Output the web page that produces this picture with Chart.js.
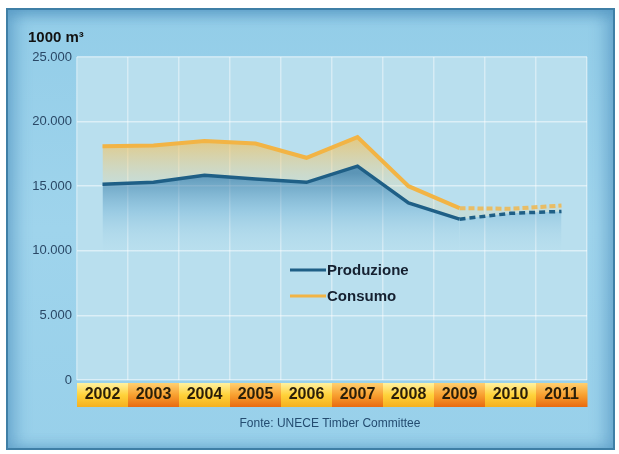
<!DOCTYPE html>
<html>
<head>
<meta charset="utf-8">
<script src="https://cdn.jsdelivr.net/npm/chart.js@4/dist/chart.umd.min.js"></script>
<style>
  html, body { margin: 0; padding: 0; background: #ffffff; }
  #wrap { position: relative; width: 619px; height: 454px; overflow: hidden; }
  #frame {
    position: absolute; left: 6px; top: 8px; width: 605px; height: 438px;
    border: 2px solid #3f7fa6;
    background: linear-gradient(180deg, #93cde8 0%, #9fd4ec 50%, #98d0ea 100%);
    box-shadow: inset 10px 0 14px rgba(60,130,180,0.35), inset -10px 0 14px rgba(60,130,180,0.35), inset 0 8px 10px rgba(60,130,180,0.25);
  }
  canvas { position: absolute; left: 0; top: 0; }
</style>
</head>
<body>
<div id="wrap">
  <div id="frame"></div>
  <canvas id="c" width="619" height="454"></canvas>
</div>
<script>
const years = ['2002','2003','2004','2005','2006','2007','2008','2009','2010','2011'];
const produzione = [15150, 15300, 15850, 15550, 15300, 16550, 13700, 12450, 12900, 13050];
const consumo = [18100, 18150, 18500, 18300, 17200, 18800, 15000, 13300, 13250, 13500];
const yTicks = [0, 5000, 10000, 15000, 20000, 25000];
const unitLabel = '1000 m³';
const sourceLabel = 'Fonte: UNECE Timber Committee';
const forecastFrom = 7; // segments after 2009 are dashed

const NARROW = "'Liberation Sans Narrow', 'Liberation Sans', Arial, sans-serif";

function fmt(v) {
  return v === 0 ? '0' : v.toLocaleString('de-DE').replace(',', '.');
}

const decor = {
  id: 'decor',
  beforeDraw(chart) {
    const { ctx, chartArea: a, scales } = chart;
    ctx.save();
    ctx.fillStyle = '#b9dfee';
    ctx.fillRect(a.left, a.top, a.right - a.left, a.bottom - a.top);
    const x = scales.x;
    const bandTop = a.bottom + 3, bandH = 24;
    years.forEach((yr, i) => {
      const c = x.getPixelForValue(i);
      const w = x.getPixelForValue(1) - x.getPixelForValue(0);
      const l = c - w / 2;
      const g = ctx.createLinearGradient(0, bandTop, 0, bandTop + bandH);
      if (i % 2 === 0) {
        g.addColorStop(0, '#fff1a0');
        g.addColorStop(0.5, '#ffd23a');
        g.addColorStop(1, '#f5b020');
      } else {
        g.addColorStop(0, '#ffd070');
        g.addColorStop(0.5, '#f8a030');
        g.addColorStop(1, '#e86a10');
      }
      ctx.fillStyle = g;
      ctx.fillRect(l, bandTop, w + 0.5, bandH);
    });
    ctx.restore();
  },
  afterDraw(chart) {
    const { ctx } = chart;
    ctx.save();
    ctx.fillStyle = '#111';
    ctx.font = "bold 15px " + NARROW;
    ctx.textBaseline = 'middle';
    ctx.textAlign = 'left';
    ctx.fillText(unitLabel, 28, 38);
    ctx.font = "12px " + NARROW;
    ctx.fillStyle = '#244c70';
    ctx.textAlign = 'center';
    ctx.fillText(sourceLabel, 330, 424);
    const items = [
      { label: 'Produzione', color: '#1f5f86', y: 270 },
      { label: 'Consumo', color: '#f2b445', y: 296 }
    ];
    items.forEach(it => {
      ctx.strokeStyle = it.color;
      ctx.lineWidth = 3;
      ctx.beginPath();
      ctx.moveTo(290, it.y);
      ctx.lineTo(326, it.y);
      ctx.stroke();
      ctx.fillStyle = '#152030';
      ctx.font = "bold 15px " + NARROW;
      ctx.textAlign = 'left';
      ctx.fillText(it.label, 327, it.y + 1);
    });
    ctx.restore();
  }
};

function blueFill(ctx) {
  const ch = ctx.chart;
  const a = ch.chartArea;
  if (!a) return 'rgba(40,110,150,0.4)';
  const y = ch.scales.y;
  const g = ch.ctx.createLinearGradient(0, y.getPixelForValue(16000), 0, y.getPixelForValue(9500));
  g.addColorStop(0, 'rgba(30,100,145,0.6)');
  g.addColorStop(0.45, 'rgba(80,155,200,0.3)');
  g.addColorStop(1, 'rgba(185,223,238,0)');
  return g;
}
function orangeFill(ctx) {
  const ch = ctx.chart;
  const a = ch.chartArea;
  if (!a) return 'rgba(240,180,70,0.4)';
  const y = ch.scales.y;
  const g = ch.ctx.createLinearGradient(0, y.getPixelForValue(18800), 0, y.getPixelForValue(15000));
  g.addColorStop(0, 'rgba(245,190,80,0.7)');
  g.addColorStop(1, 'rgba(235,215,160,0.25)');
  return g;
}

new Chart(document.getElementById('c'), {
  type: 'line',
  data: {
    labels: years,
    datasets: [
      {
        label: 'Produzione',
        data: produzione,
        borderColor: '#1f5f86',
        borderWidth: 3.5,
        pointRadius: 0,
        tension: 0,
        fill: 'origin',
        backgroundColor: blueFill,
        segment: {
          borderDash: c => c.p0DataIndex >= forecastFrom ? [6, 4] : undefined
        }
      },
      {
        label: 'Consumo',
        data: consumo,
        borderColor: '#f2b445',
        borderWidth: 4,
        pointRadius: 0,
        tension: 0,
        fill: '-1',
        backgroundColor: orangeFill,
        segment: {
          borderDash: c => c.p0DataIndex >= forecastFrom ? [6, 3] : undefined,
          borderColor: c => c.p0DataIndex >= forecastFrom ? 'rgba(242,180,69,0.8)' : undefined
        }
      }
    ]
  },
  options: {
    responsive: false,
    animation: false,
    devicePixelRatio: 1,
    layout: { padding: { left: 0, right: 32, top: 57, bottom: 44 } },
    plugins: { legend: { display: false }, tooltip: { enabled: false } },
    scales: {
      x: {
        type: 'category',
        offset: true,
        afterFit(s) { s.height = 30; },
        grid: { offset: true, color: 'rgba(255,255,255,0.42)', lineWidth: 1.5, drawTicks: false, drawOnChartArea: true },
        border: { display: false },
        ticks: {
          padding: 5,
          color: '#2a1e08',
          font: { family: NARROW, size: 16, weight: 'bold' },
          maxRotation: 0,
          autoSkip: false
        }
      },
      y: {
        min: 0,
        max: 25000,
        afterFit(s) { s.width = 77; },
        afterBuildTicks(s) { s.ticks = yTicks.map(v => ({ value: v })); },
        grid: { color: 'rgba(255,255,255,0.5)', lineWidth: 1.5, drawTicks: false },
        border: { display: false },
        ticks: {
          padding: 5,
          color: '#2a4866',
          font: { family: NARROW, size: 13 },
          callback: v => fmt(v)
        }
      }
    }
  },
  plugins: [decor]
});
</script>
</body>
</html>
